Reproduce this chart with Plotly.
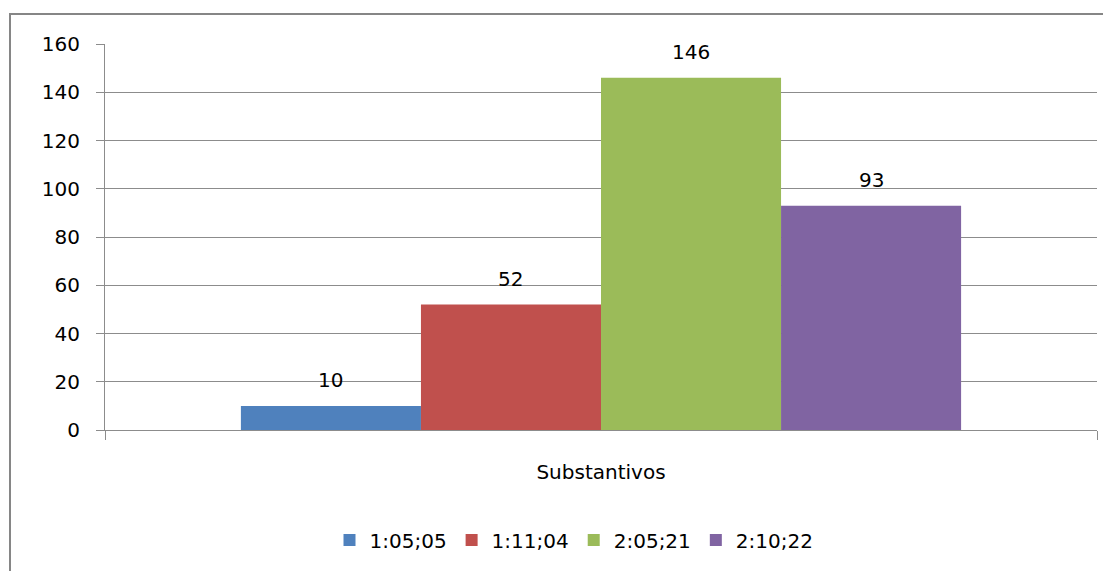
import plotly.graph_objects as go

categories = ["Substantivos"]
series_names = ["1:05;05", "1:11;04", "2:05;21", "2:10;22"]
series_values = [[10], [52], [146], [93]]
colors = ["#4F81BD", "#C0504D", "#9BBB59", "#8064A2"]
y_ticks = [0, 20, 40, 60, 80, 100, 120, 140, 160]

# page has an 8px body margin, so the figure is drawn 8px in from the top-left
OFF = 8
W, H = 1111 - OFF, 571 - OFF
ML, MT = 105 - OFF, 44 - OFF
MR = W - (1097 - OFF)
MB = H - (430 - OFF)
BARGAP = 0.274
FONT = "DejaVu Sans"

fig = go.Figure()
for name, vals, col in zip(series_names, series_values, colors):
    fig.add_trace(go.Bar(x=categories, y=vals, name=name, marker_color=col,
                         marker_line_width=0))

n = len(series_names)
bw = (1 - BARGAP) / n
annotations = []
for i, vals in enumerate(series_values):
    for ci, v in enumerate(vals):
        annotations.append(dict(x=ci + (i - (n - 1) / 2) * bw, y=v, xref="x", yref="y",
                                text=str(v), showarrow=False, yanchor="bottom",
                                yshift=12, font=dict(family=FONT, size=20, color="#000")))

pw = W - ML - MR
ph = H - MT - MB
fig.update_layout(
    width=W, height=H,
    margin=dict(l=ML, r=MR, t=MT, b=MB),
    paper_bgcolor="white", plot_bgcolor="white",
    barmode="group", bargap=BARGAP, bargroupgap=0,
    font=dict(family=FONT, size=20, color="#000"),
    xaxis=dict(showline=True, linecolor="#8c8c8c", linewidth=1, ticks="outside",
               tickson="boundaries", ticklen=9, tickcolor="#8c8c8c",
               ticklabelstandoff=24, range=[-0.5, 0.5], showgrid=False),
    yaxis=dict(range=[0, 160], tickvals=y_ticks, showline=True, linecolor="#8c8c8c",
               linewidth=1, ticks="outside", ticklen=8, tickcolor="#8c8c8c",
               gridcolor="#8c8c8c", gridwidth=1, zeroline=False, ticklabelstandoff=12),
    legend=dict(orientation="h", x=(574 - OFF - ML) / pw, xanchor="center",
                y=-(540 - 430) / ph, yanchor="middle",
                font=dict(family=FONT, size=20), itemwidth=30),
    annotations=annotations,
    showlegend=True,
    shapes=[dict(type="rect", xref="paper", yref="paper",
                 x0=(10 - OFF - ML) / pw, x1=(W + 20 - ML) / pw,
                 y0=-(H + 20 - (H - MB)) / ph, y1=((H - MB) - (14 - OFF)) / ph,
                 line=dict(color="#868686", width=2), layer="below")],
)

fig.write_html("out.html")
